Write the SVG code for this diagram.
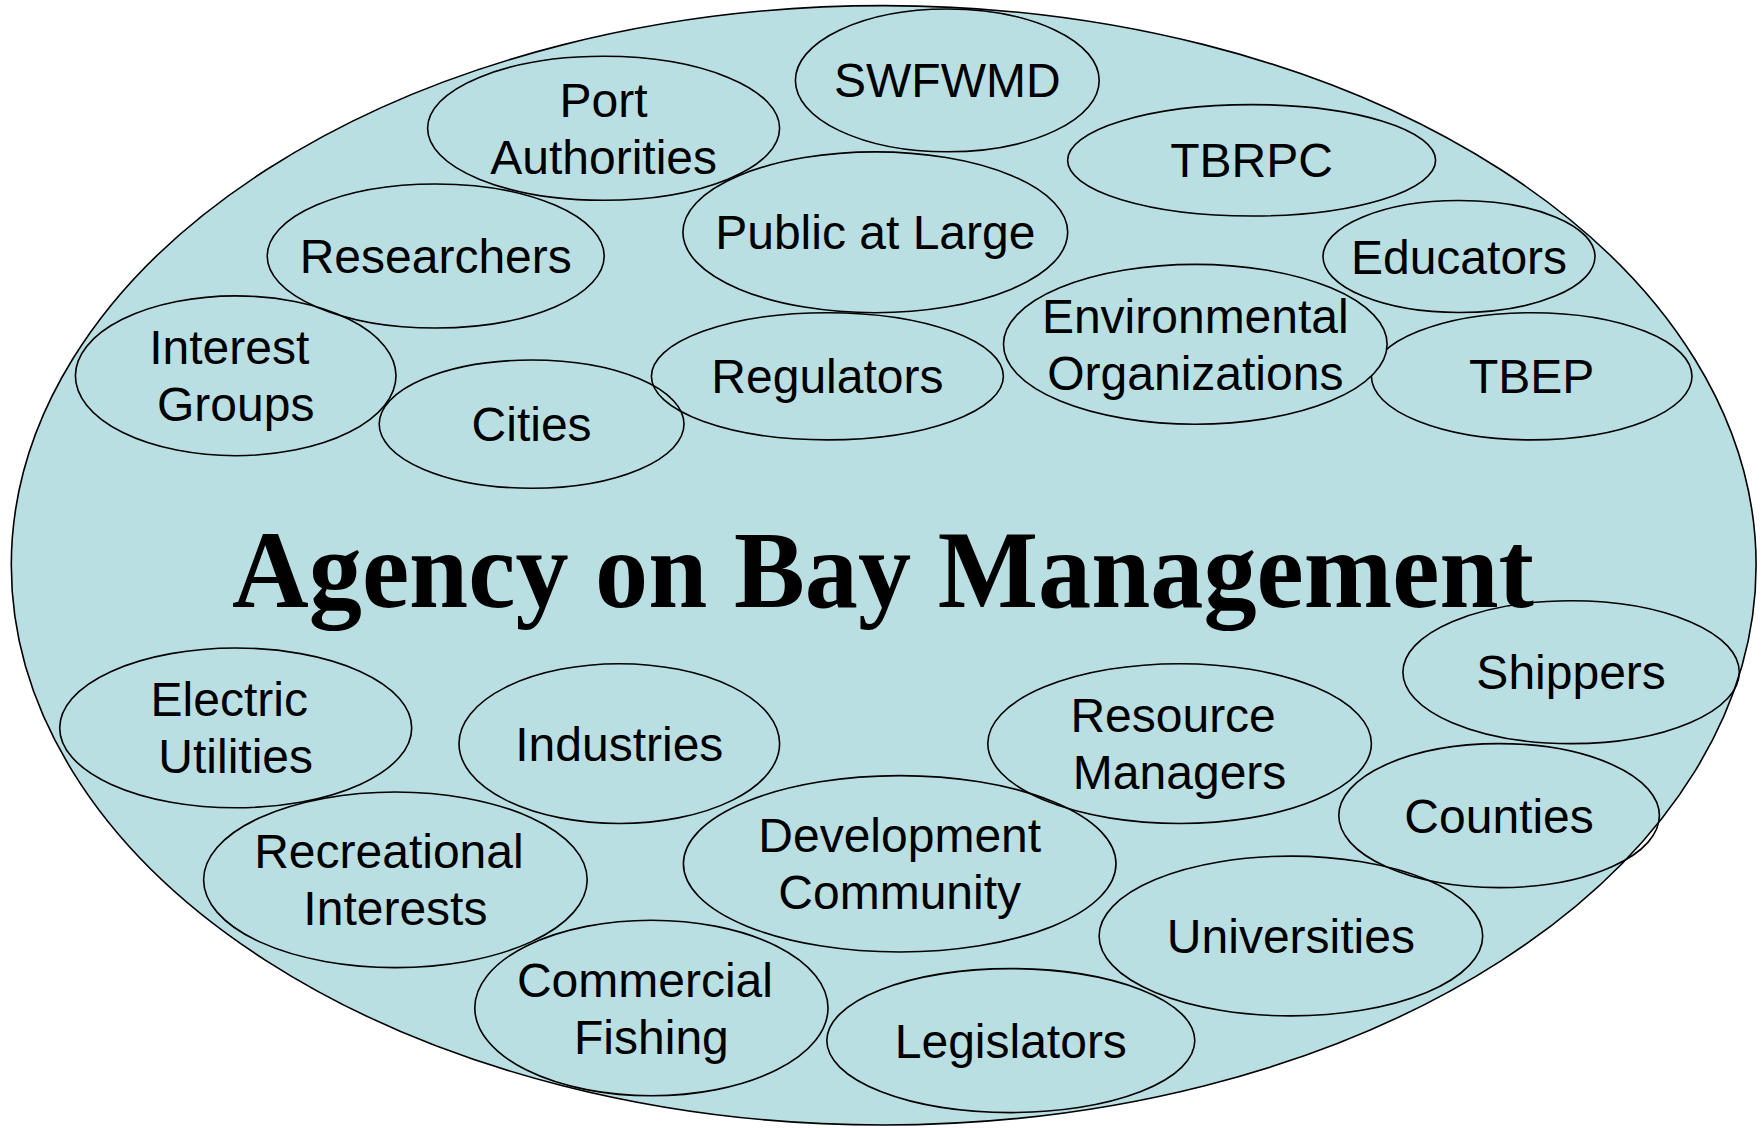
<svg xmlns="http://www.w3.org/2000/svg" width="1764" height="1128" viewBox="0 0 1764 1128">
<style>
.bg{fill:#b9dfe3;stroke:#000;stroke-width:1.6}
.n{fill:none;stroke:#000;stroke-width:1.6}
.f{fill:#b9dfe3;stroke:#000;stroke-width:1.6}
.t{font-family:"Liberation Sans",Arial,sans-serif;font-size:48px;fill:#000;text-anchor:middle}
.title{font-family:"Liberation Serif","Times New Roman",serif;font-size:110px;font-weight:bold;fill:#000}
</style>
<rect width="1764" height="1128" fill="#fff"/>
<g id="agency">
<ellipse class="bg" cx="883.7" cy="565.3" rx="872.4" ry="559.7"/>
<text class="title" x="232" y="606.7" textLength="1302" lengthAdjust="spacingAndGlyphs">Agency on Bay Management</text>
</g>
<g id="connectors"></g>
<g id="port-authorities"><ellipse class="n" cx="603.6" cy="128.3" rx="176" ry="72"/><text class="t" x="603.6" y="116.8">Port</text><text class="t" x="603.6" y="173.8">Authorities</text></g>
<g id="swfwmd"><ellipse class="n" cx="947.3" cy="80.4" rx="151.9" ry="71.4"/><text class="t" x="947.3" y="97.4">SWFWMD</text></g>
<g id="tbrpc"><ellipse class="n" cx="1251.6" cy="160.3" rx="184" ry="55.7"/><text class="t" x="1251.6" y="177.3">TBRPC</text></g>
<g id="public-at-large"><ellipse class="n" cx="875.3" cy="232.3" rx="192.4" ry="80.4"/><text class="t" x="875.3" y="249.3">Public at Large</text></g>
<g id="researchers"><ellipse class="n" cx="435.7" cy="256" rx="168.5" ry="72"/><text class="t" x="435.7" y="273">Researchers</text></g>
<g id="educators"><ellipse class="n" cx="1459" cy="256.5" rx="136" ry="56"/><text class="t" x="1459" y="273.5">Educators</text></g>
<g id="tbep"><ellipse class="n" cx="1531.7" cy="376.3" rx="160.3" ry="63.6"/><text class="t" x="1531.7" y="393.3">TBEP</text></g>
<g id="environmental-organizations"><ellipse class="f" cx="1195.3" cy="344.3" rx="191.8" ry="79.9"/><text class="t" x="1195.3" y="332.8">Environmental</text><text class="t" x="1195.3" y="389.8">Organizations</text></g>
<g id="interest-groups"><ellipse class="n" cx="235.7" cy="375.8" rx="160.3" ry="79.9"/><text class="t" x="229.2" y="364.3">Interest</text><text class="t" x="235.7" y="421.3">Groups</text></g>
<g id="regulators"><ellipse class="n" cx="827.4" cy="376.3" rx="176" ry="63.6"/><text class="t" x="827.4" y="393.3">Regulators</text></g>
<g id="cities"><ellipse class="n" cx="531.6" cy="424.1" rx="152.4" ry="64.1"/><text class="t" x="531.6" y="441.1">Cities</text></g>
<g id="electric-utilities"><ellipse class="n" cx="235.7" cy="727.9" rx="176" ry="79.9"/><text class="t" x="229.2" y="716.4">Electric</text><text class="t" x="235.7" y="773.4">Utilities</text></g>
<g id="industries"><ellipse class="n" cx="619.3" cy="743.6" rx="160.3" ry="79.9"/><text class="t" x="619.3" y="760.6">Industries</text></g>
<g id="shippers"><ellipse class="n" cx="1571.1" cy="672.2" rx="168.2" ry="71.4"/><text class="t" x="1571.1" y="689.2">Shippers</text></g>
<g id="resource-managers"><ellipse class="n" cx="1179.6" cy="743.6" rx="191.8" ry="79.9"/><text class="t" x="1173.1" y="732.1">Resource</text><text class="t" x="1179.6" y="789.1">Managers</text></g>
<g id="counties"><ellipse class="n" cx="1499.1" cy="815.6" rx="160.3" ry="72"/><text class="t" x="1499.1" y="832.6">Counties</text></g>
<g id="recreational-interests"><ellipse class="n" cx="395.4" cy="879.8" rx="191.8" ry="87.8"/><text class="t" x="388.9" y="868.3">Recreational</text><text class="t" x="395.4" y="925.3">Interests</text></g>
<g id="development-community"><ellipse class="n" cx="899.7" cy="863.8" rx="216.3" ry="88.2"/><text class="t" x="899.7" y="852.3">Development</text><text class="t" x="899.7" y="909.3">Community</text></g>
<g id="universities"><ellipse class="n" cx="1290.9" cy="936" rx="191.8" ry="79.9"/><text class="t" x="1290.9" y="953">Universities</text></g>
<g id="commercial-fishing"><ellipse class="n" cx="651.4" cy="1008" rx="176.6" ry="87.8"/><text class="t" x="644.9" y="996.5">Commercial</text><text class="t" x="651.4" y="1053.5">Fishing</text></g>
<g id="legislators"><ellipse class="n" cx="1010.8" cy="1040.6" rx="184" ry="72"/><text class="t" x="1010.8" y="1057.6">Legislators</text></g>
</svg>
